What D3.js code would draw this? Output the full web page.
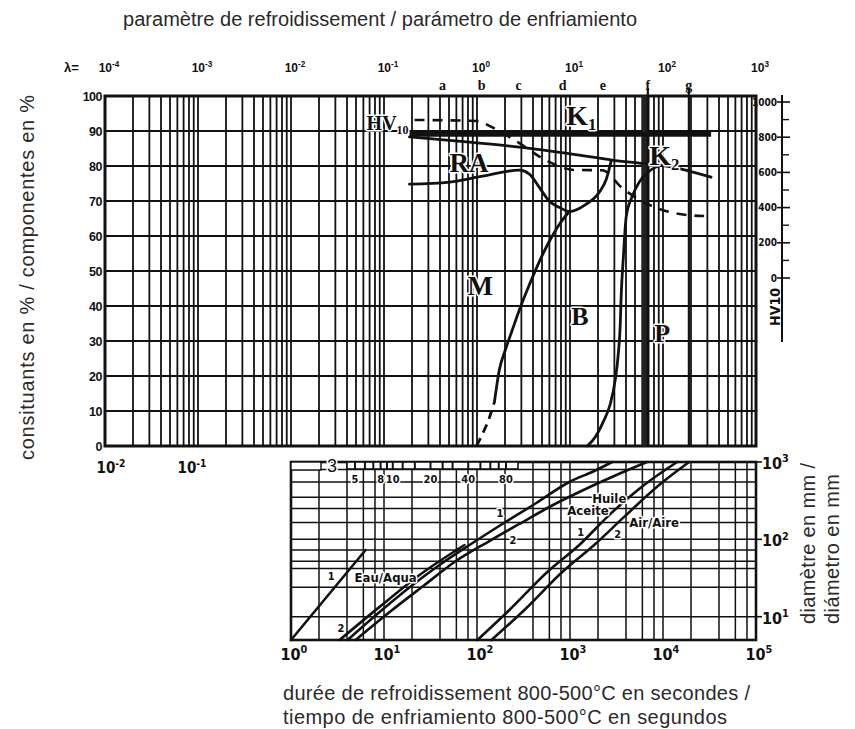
<!DOCTYPE html>
<html><head><meta charset="utf-8">
<script src="https://cdn.jsdelivr.net/npm/d3@7/dist/d3.min.js"></script>
<style>
body{margin:0;background:#fff;}
svg{display:block;}
.sans{font-family:"Liberation Sans",Arial,Helvetica,sans-serif;fill:#2a2a2a;}
.tick{font-family:"Liberation Sans",Arial,sans-serif;font-weight:bold;fill:#111;}
.narrow{font-family:"Liberation Sans Narrow","DejaVu Sans Condensed","Arial Narrow",sans-serif;font-stretch:condensed;font-weight:bold;fill:#111;}
.serif{font-family:"Liberation Serif","Times New Roman",serif;font-weight:bold;fill:#111;}
.halo{paint-order:stroke;stroke:#fff;stroke-width:3px;stroke-linejoin:round;}
</style></head><body>
<script>
// ---------------- data ----------------
const timeDecades = [1e-2, 1e-1, 1, 10, 100, 1e3, 1e4, 1e5];
const lambdaExps = ["-4", "-3", "-2", "-1", "0", "1", "2", "3"];
const pctTicks = [0, 10, 20, 30, 40, 50, 60, 70, 80, 90, 100];
const hvTicks = [0, 200, 400, 600, 800, 1000];
const hvMinor = [100, 300, 500, 700, 900];
const upperTimeLabels = [[0.01, "-2"], [0.1, "-1"]];
const lowerTimeLabels = [[1, "0"], [10, "1"], [100, "2"], [1e3, "3"], [1e4, "4"], [1e5, "5"]];
const diamLabels = [[10, "1"], [100, "2"], [1000, "3"]];
const diamGrid = [10, 24, 42, 52, 73, 100, 165, 250, 350, 550, 800];
const lowerGridMult = [1, 2, 4, 6, 8];
const phaseLetters = ["a", "b", "c", "d", "e", "f", "g"];
const phaseTimes = [42.6, 112, 280, 834, 2250, 6870, 18970];
const pearliteBand = [5900, 7000];
const rulerTicks = [5, 6, 7, 8, 9, 10, 12, 15, 20, 25, 30, 40, 50, 60, 70, 80];
const rulerLabels = [5, 8, 10, 20, 40, 80];

// upper diagram: [time s, %]  (HV curve: [time s, HV10])
const k1Line = [[18.8, 89.1], [32900, 89.1]];
const raUpper = [[18.8, 88.3], [83, 86.8], [286, 85.4], [1059, 83.4], [2845, 81.7], [5547, 80.8], [12540, 79.7], [32870, 76.8]];
const raLower = [[18.8, 74.8], [50.6, 75.4], [114, 77.1], [286, 78.8], [366, 77.7], [468, 73.9], [600, 69.9], [767, 68.2], [982, 67.0], [1496, 69.1], [2065, 72.5], [2455, 76.2], [2773, 81.5]];
const martSolid = [[154, 12.6], [174, 21.8], [202, 27.5], [240, 33.2], [300, 40.4], [366, 46.1], [468, 52.7], [600, 58.5], [767, 63.3], [982, 67.0]];
const martDashed = [[98.6, 0], [112, 2.9], [133, 7.4], [154, 12.6]];
const bainite = [[1535, 0], [1870, 2.6], [2276, 6.9], [2710, 12.0], [3065, 18.9], [3300, 26.1], [3470, 34.7], [3555, 43.3], [3735, 53.3], [4025, 65.6], [4665, 71.3], [5547, 75.4], [7100, 78.5], [10280, 80.5]];
const hvCurve = [[21.3, 898], [101, 892], [136, 864], [272, 773], [571, 665], [1112, 614], [2222, 612], [3650, 511], [8040, 403], [18100, 358], [27700, 352]];

// lower diagram: [time s, diameter mm]
const eau1 = [[1, 5], [6.34, 72.8]];
const eau2 = [[3.33, 5], [8.96, 13.4], [24.1, 34.6], [73.3, 84.5]];
const huile1 = [[4.06, 5], [8.96, 11.5], [20.3, 25.7], [39.5, 46.6], [83, 84.5], [187, 158], [434, 295], [982, 551], [1820, 765], [2840, 1000]];
const huile2 = [[4.95, 5], [11.5, 11.5], [27.3, 25.7], [57.3, 51], [136, 95.2], [285, 158], [599, 262], [1257, 409], [2985, 659], [6745, 1000]];
const air1 = [[101, 5], [223, 12.2], [570, 37.8], [1257, 84.5], [2636, 206], [6265, 504], [14190, 1000]];
const air2 = [[143, 5], [323, 12.2], [826, 37.8], [1820, 84.5], [3820, 195], [9075, 504], [19100, 1000]];

const upperLabels = [
  ["HV", "10", 6.5, 90.3, 20], ["K", "1", 912, 91.7, 28], ["RA", "", 50.6, 78.3, 27],
  ["K", "2", 7100, 80.3, 28], ["M", "", 78.9, 43.1, 27], ["B", "", 1033, 34.6, 26], ["P", "", 8040, 29.7, 26]];
const lowerLabels = [
  ["Eau/Aqua", 4.83, 28.1], ["1", 2.48, 29.9], ["2", 3.17, 6.3], ["1", 162, 195], ["2", 223, 87.1],
  ["Huile", 1735, 295], ["Aceite", 935, 206], ["Air/Aire", 4330, 144], ["1", 1197, 110], ["2", 2985, 104]];

// ---------------- scales ----------------
const W = 855, H = 729;
const x = d3.scaleLog().domain([0.01, 1e5]).range([105, 756]);
const yPct = d3.scaleLinear().domain([0, 100]).range([446, 96]);
const yHV = d3.scaleLinear().domain([0, 1000]).range([278, 102]);
const yD = d3.scaleLog().domain([5, 1000]).range([640, 462]);
const xr = d3.scaleLog().domain([5, 80]).range([355, 506]);

const svg = d3.select("body").append("svg").attr("width", W).attr("height", H);
const ink = "#111";

function sup(g, xp, yp, base, exp, cls, size, anchor) {
  const t = g.append("text").attr("class", cls).attr("x", xp).attr("y", yp)
    .attr("font-size", size).attr("text-anchor", anchor || "middle");
  t.append("tspan").text(base);
  t.append("tspan").attr("dy", -size * 0.42).attr("font-size", size * 0.68).text(exp);
  return t;
}

// ---------------- titles ----------------
svg.append("text").attr("class", "sans").attr("x", 123).attr("y", 26)
  .attr("font-size", 20).attr("textLength", 514).text("paramètre de refroidissement / parámetro de enfriamiento");
svg.append("text").attr("class", "sans").attr("transform", "translate(34,460) rotate(-90)")
  .attr("font-size", 20).attr("textLength", 365).text("consituants en % / componentes en %");
svg.append("text").attr("class", "sans").attr("x", 283).attr("y", 700).attr("font-size", 20)
  .attr("textLength", 467).text("durée de refroidissement 800-500°C en secondes /");
svg.append("text").attr("class", "sans").attr("x", 283).attr("y", 724).attr("font-size", 20)
  .attr("textLength", 444).text("tiempo de enfriamiento 800-500°C en segundos");
svg.append("text").attr("class", "sans").attr("transform", "translate(815,624) rotate(-90)")
  .attr("font-size", 20).attr("textLength", 161).text("diamètre en mm /");
svg.append("text").attr("class", "sans").attr("transform", "translate(839,624) rotate(-90)")
  .attr("font-size", 20).attr("textLength", 150).text("diámetro en mm");

// ---------------- upper grid ----------------
const gU = svg.append("g");
const upperV = [];
for (let e = -2; e < 5; e++) for (let m = 1; m < 10; m++) upperV.push(m * Math.pow(10, e));
upperV.push(1e5);
gU.selectAll("line.v").data(upperV).join("line").attr("class", "v")
  .attr("x1", d => x(d)).attr("x2", d => x(d)).attr("y1", yPct(100)).attr("y2", yPct(0))
  .attr("stroke", ink).attr("stroke-width", 1.8);
gU.selectAll("line.h").data(pctTicks).join("line").attr("class", "h")
  .attr("x1", x(0.01)).attr("x2", x(1e5)).attr("y1", d => yPct(d)).attr("y2", d => yPct(d))
  .attr("stroke", ink).attr("stroke-width", 1.9);
gU.append("rect").attr("x", x(0.01)).attr("y", yPct(100)).attr("width", x(1e5) - x(0.01))
  .attr("height", yPct(0) - yPct(100)).attr("fill", "none").attr("stroke", ink).attr("stroke-width", 3);

// pearlite band and f / g lines
gU.append("rect").attr("x", x(pearliteBand[0])).attr("y", yPct(100)).attr("width", x(pearliteBand[1]) - x(pearliteBand[0]))
  .attr("height", yPct(0) - yPct(100)).attr("fill", "#222");
gU.selectAll("line.ph").data(phaseTimes.filter((d, i) => i >= 5)).join("line").attr("class", "ph")
  .attr("x1", d => x(d)).attr("x2", d => x(d)).attr("y1", 88).attr("y2", yPct(0))
  .attr("stroke", ink).attr("stroke-width", 2.2);

// left axis
const axL = svg.append("g").attr("transform", `translate(${x(0.01) - 2},0)`)
  .call(d3.axisLeft(yPct).tickValues(pctTicks).tickSize(0).tickPadding(1));
axL.select(".domain").remove();
axL.selectAll("text").attr("class", "tick").attr("font-size", 12.5).attr("dy", "0.35em").style("letter-spacing", "-0.5px");

// lambda scale on top
svg.append("text").attr("class", "tick").attr("x", 64).attr("y", 72).attr("font-size", 13).text("λ=");
timeDecades.forEach((t, i) => sup(svg, x(t) + 4, 72, "10", lambdaExps[i], "tick", 12));
svg.selectAll("text.letter").data(phaseLetters).join("text").attr("class", "serif letter")
  .attr("x", (d, i) => x(phaseTimes[i])).attr("y", 90).attr("text-anchor", "middle")
  .attr("font-size", 14).text(d => d);

// bottom labels of upper diagram
upperTimeLabels.forEach(([t, e], i) => sup(svg, x(t) + (i === 0 ? 6 : -6), 473, "10", e, "narrow", 15));

// HV10 right axis
const gHV = svg.append("g");
gHV.append("line").attr("x1", 782).attr("x2", 782).attr("y1", 95).attr("y2", 342).attr("stroke", ink).attr("stroke-width", 2);
gHV.selectAll("line.t").data(hvTicks).join("line").attr("class", "t")
  .attr("x1", 777).attr("x2", 790).attr("y1", d => yHV(d)).attr("y2", d => yHV(d)).attr("stroke", ink).attr("stroke-width", 1.6);
gHV.selectAll("line.m").data(hvMinor).join("line").attr("class", "m")
  .attr("x1", 782).attr("x2", 789).attr("y1", d => yHV(d)).attr("y2", d => yHV(d)).attr("stroke", ink).attr("stroke-width", 1.4);
gHV.selectAll("text").data(hvTicks).join("text").attr("class", "narrow")
  .attr("x", 777).attr("y", d => yHV(d) + 3.5).attr("text-anchor", "end").attr("font-size", 10).text(d => d);
svg.append("text").attr("class", "narrow").attr("transform", "translate(780,307) rotate(-90)")
  .attr("text-anchor", "middle").attr("font-size", 14).text("HV10");

// ---------------- upper curves ----------------
const lineP = d3.line().x(d => x(d[0])).y(d => yPct(d[1])).curve(d3.curveMonotoneX);
const lineHV = d3.line().x(d => x(d[0])).y(d => yHV(d[1])).curve(d3.curveMonotoneX);
const gC = svg.append("g").attr("fill", "none").attr("stroke", ink).attr("stroke-linecap", "round");
gC.append("path").attr("d", lineP(k1Line)).attr("stroke-width", 5).attr("stroke-linecap", "butt");
gC.append("path").attr("d", lineP(raUpper)).attr("stroke-width", 2.8);
gC.append("path").attr("d", lineP(raLower)).attr("stroke-width", 2.8);
gC.append("path").attr("d", lineP(martSolid)).attr("stroke-width", 2.8);
gC.append("path").attr("d", lineP(martDashed)).attr("stroke-width", 2.8).attr("stroke-dasharray", "9,6").attr("stroke-linecap", "butt");
gC.append("path").attr("d", lineP(bainite)).attr("stroke-width", 2.8);
gC.append("path").attr("d", lineHV(hvCurve)).attr("stroke-width", 2.6).attr("stroke-dasharray", "10,8").attr("stroke-linecap", "butt");

upperLabels.forEach(([txt, sub, t, p, size]) => {
  const el = svg.append("text").attr("class", "serif halo").attr("x", x(t)).attr("y", yPct(p)).attr("font-size", size);
  el.append("tspan").text(txt);
  if (sub) el.append("tspan").attr("dy", size * 0.18).attr("font-size", size * 0.6).text(sub);
});

// ---------------- lower grid ----------------
const gL = svg.append("g");
const lowerV = [];
for (let e = 0; e < 5; e++) lowerGridMult.forEach(m => lowerV.push(m * Math.pow(10, e)));
lowerV.push(1e5);
gL.selectAll("line.v").data(lowerV).join("line").attr("class", "v")
  .attr("x1", d => x(d)).attr("x2", d => x(d)).attr("y1", yD(1000)).attr("y2", yD(5))
  .attr("stroke", ink).attr("stroke-width", 1.5);
gL.selectAll("line.h").data(diamGrid).join("line").attr("class", "h")
  .attr("x1", x(1)).attr("x2", x(1e5)).attr("y1", d => yD(d)).attr("y2", d => yD(d))
  .attr("stroke", ink).attr("stroke-width", 1.5);
gL.append("rect").attr("x", x(1)).attr("y", yD(1000)).attr("width", x(1e5) - x(1))
  .attr("height", yD(5) - yD(1000)).attr("fill", "none").attr("stroke", ink).attr("stroke-width", 2.6);

// ruler "3"
gL.append("rect").attr("x", x(1)).attr("y", yD(1000)).attr("width", 30).attr("height", 8)
  .attr("fill", "#fff").attr("stroke", ink).attr("stroke-width", 1.4);
gL.append("text").attr("class", "sans halo").attr("x", 327).attr("y", 472).attr("font-size", 18).style("fill", "#111").text("3");
gL.append("rect").attr("x", xr(5) - 8).attr("y", yD(1000)).attr("width", xr(80) - xr(5) + 20).attr("height", 7)
  .attr("fill", "#fff").attr("stroke", ink).attr("stroke-width", 1.6);
gL.selectAll("line.r").data(rulerTicks).join("line").attr("class", "r")
  .attr("x1", d => xr(d)).attr("x2", d => xr(d)).attr("y1", yD(1000)).attr("y2", yD(1000) + 7)
  .attr("stroke", ink).attr("stroke-width", 2);
gL.selectAll("text.r").data(rulerLabels).join("text").attr("class", "narrow r halo")
  .attr("x", d => xr(d)).attr("y", 483).attr("text-anchor", "middle").attr("font-size", 11).text(d => d);

// axes labels of lower diagram
lowerTimeLabels.forEach(([t, e]) => sup(svg, x(t) + 3, 660, "10", e, "narrow", 16));
diamLabels.forEach(([d, e]) => {
  svg.append("line").attr("x1", x(1e5)).attr("x2", x(1e5) + 6).attr("y1", yD(d)).attr("y2", yD(d)).attr("stroke", ink).attr("stroke-width", 1.6);
  sup(svg, x(1e5) + 6, yD(d) + 7, "10", e, "narrow", 16, "start");
});

// ---------------- lower curves ----------------
const lineD = d3.line().x(d => x(d[0])).y(d => yD(d[1])).curve(d3.curveMonotoneX);
const gLC = svg.append("g").attr("fill", "none").attr("stroke", ink).attr("stroke-linecap", "round");
[eau1, eau2, huile1, huile2, air1, air2].forEach(s => gLC.append("path").attr("d", lineD(s)).attr("stroke-width", 2.6));

lowerLabels.forEach(([txt, t, d]) => {
  svg.append("text").attr("class", "narrow halo").attr("x", x(t)).attr("y", yD(d))
    .attr("font-size", txt.length > 1 ? 13 : 11).text(txt);
});
</script>
</body></html>
